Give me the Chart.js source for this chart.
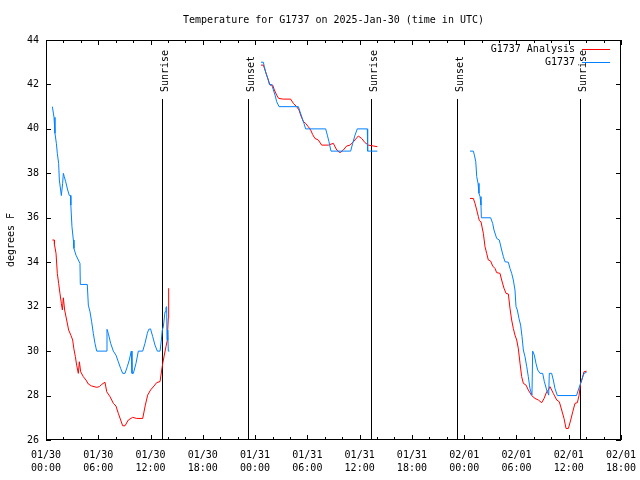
<!DOCTYPE html>
<html>
<head>
<meta charset="utf-8">
<script src="https://cdn.jsdelivr.net/npm/chart.js@4.4.1/dist/chart.umd.min.js"></script>
<style>
  body { margin: 0; background: #fff; }
</style>
</head>
<body>
<canvas id="tempChart" width="640" height="480"></canvas>
<script>
// hours since 01/30 00:00 UTC; null temp breaks the line
const analysisHours = [
  0.73, 0.96, 0.97, 1.15, 1.3, 1.45, 1.6, 1.76, 1.88, 1.99, 2.14, 2.37, 2.6, 2.87, 3.06, 3.2, 3.37, 3.52, 3.71, 3.83, 3.98,
  4.28, 4.59, 4.86, 5.24, 5.82, 6.12, 6.39, 6.77, 6.97, 7.35, 7.73, 8.03, 8.3, 8.57, 8.8, 9.07, 9.45, 9.95, 10.4, 11.1,
  11.4, 11.67, 12.0, 12.4, 12.7, 13.09, 13.28, 13.4, 13.58, 13.77, 13.93, 13.97, 14.04, 14.08,
  19,
  24.68, 24.95, 25.14, 25.33, 25.52, 25.71, 26.02, 26.21, 26.48, 26.71, 27.24, 28.08, 28.39, 28.77, 29.04, 29.27, 29.54,
  29.8, 30.1, 30.38, 30.6, 30.87, 31.26, 31.64, 32.4, 32.98, 33.37, 33.75, 34.13, 34.51, 34.9, 35.28, 35.85, 36.23,
  36.62, 37.0, 37.57, 38.03,
  43,
  48.67, 49.05, 49.24, 49.44, 49.63, 49.74, 49.93, 50.12, 50.2, 50.39, 50.58, 50.77, 51.04, 51.27, 51.54, 51.73, 52.11,
  52.3, 52.57, 52.8, 53.07, 53.26, 53.45, 53.64, 53.83, 54.03, 54.22, 54.41, 54.6, 54.79, 55.1, 55.36, 55.75, 56.13,
  56.51, 56.9, 57.17, 57.47, 57.66, 57.85, 58.04, 58.23, 58.62, 58.92, 59.19, 59.46, 59.69, 59.96, 60.23, 60.46, 60.72,
  60.99, 61.18, 61.37, 61.56, 61.75, 62.05
];
const analysisTemps = [
  35.0, 35.0, 34.8, 34.4, 33.5, 33.05, 32.6, 32.15, 31.85, 32.4, 31.85, 31.4, 30.95, 30.7, 30.5, 30.1, 29.75, 29.37, 29.0, 29.52, 29.07,
  28.85, 28.7, 28.52, 28.43, 28.37, 28.4, 28.5, 28.6, 28.17, 27.95, 27.65, 27.53, 27.2, 26.9, 26.64, 26.64, 26.9, 27.02, 26.97, 26.97,
  27.57, 28.02, 28.25, 28.43, 28.58, 28.63, 29.15, 29.45, 29.82, 30.2, 30.5, 30.95, 31.48, 32.83,
  null,
  42.87, 42.87, 42.65, 42.42, 42.2, 41.97, 41.97, 41.75, 41.52, 41.37, 41.34, 41.34, 41.15, 41.0, 40.85, 40.58, 40.33,
  40.25, 40.1, 39.95, 39.75, 39.57, 39.5, 39.27, 39.27, 39.35, 39.05, 38.93, 39.05, 39.23, 39.27, 39.42, 39.68, 39.57,
  39.38, 39.27, 39.23, 39.2,
  null,
  36.87, 36.87, 36.65, 36.35, 36.05, 35.87, 35.82, 35.45, 35.3, 34.7, 34.4, 34.1, 34.05, 33.83, 33.72, 33.53, 33.5,
  33.2, 32.83, 32.6, 32.57, 31.92, 31.4, 31.02, 30.72, 30.5, 30.1, 29.45, 28.85, 28.55, 28.47, 28.25, 28.0, 27.87,
  27.8, 27.68, 27.87, 28.17, 28.25, 28.4, 28.25, 28.1, 27.8, 27.72, 27.35, 26.97, 26.52, 26.52, 26.9, 27.27, 27.65,
  27.68, 28.0, 28.55, 28.77, 29.07, 29.1
];

const obsHours = [
  0.73, 0.92, 1.03, 1.19, 1.3, 1.45, 1.53, 1.68, 1.76, 1.8, 1.91, 1.99, 2.1, 2.26, 2.49, 2.68, 2.83, 2.85, 2.98, 3.14,
  3.21, 3.44, 3.71, 3.9, 3.94, 4.74, 4.86, 5.05, 5.24, 5.43, 5.62, 5.82, 6.89, 7.0, 7.15, 7.42, 7.73, 8.03, 8.3, 8.57,
  8.8, 9.07, 9.33, 9.56, 9.79, 9.87, 10.03, 10.33, 10.6, 11.1, 11.36, 11.63, 11.79, 12.0, 12.25, 12.51, 12.78, 13.09,
  13.24, 13.35, 13.47, 13.66, 13.77, 13.85, 13.89, 13.97, 14.04, 14.16,
  19,
  24.68, 24.95, 25.06, 25.25, 25.45, 25.64, 25.9, 26.1, 26.29, 26.48, 26.75, 28.97, 29.16, 29.42, 29.61, 29.8, 32.1,
  32.29, 32.48, 32.71, 34.97, 35.2, 35.47, 35.73, 36.88, 36.92, 38.03,
  43,
  48.67, 49.05, 49.17, 49.33, 49.44, 49.59, 49.7, 49.82, 49.93, 49.97, 51.04, 51.27, 51.42, 51.73, 52.03, 52.3, 52.5,
  52.69, 53.07, 53.26, 53.45, 53.64, 53.83, 53.95, 54.1, 54.29, 54.48, 54.64, 54.79, 54.98, 55.18, 55.36, 55.55, 55.78,
  55.86, 56.05, 56.24, 56.44, 56.7, 57.01, 57.2, 57.47, 57.7, 57.77, 58.04, 58.23, 58.42, 58.69, 60.9, 61.1, 61.29,
  61.48, 61.67, 61.78, 62.05
];
const obsTemps = [
  41.0, 40.52, 39.8, 39.35, 38.9, 38.45, 37.7, 37.25, 37.0, 37.0, 37.55, 38.0, 37.85, 37.62, 37.25, 37.0, 37.0, 36.57, 35.6, 35.0,
  34.62, 34.32, 34.1, 33.95, 33.0, 33.0, 32.07, 31.77, 31.32, 30.8, 30.35, 30.0, 30.0, 30.98, 30.8, 30.35, 30.0, 29.82, 29.52, 29.22,
  29.0, 29.0, 29.3, 29.6, 30.0, 29.0, 29.0, 29.45, 30.0, 30.0, 30.35, 30.8, 30.98, 31.0, 30.65, 30.27, 30.0, 30.0,
  30.5, 30.95, 31.1, 31.77, 31.97, 32.0, 30.5, 30.95, 30.0, 30.0,
  null,
  43.0, 43.0, 42.8, 42.5, 42.28, 42.0, 42.0, 41.75, 41.52, 41.22, 41.0, 41.0, 40.77, 40.47, 40.25, 40.0, 40.0,
  39.72, 39.42, 39.0, 39.0, 39.35, 39.72, 40.0, 40.0, 39.0, 39.0,
  null,
  39.0, 39.0, 38.82, 38.52, 37.85, 37.55, 37.1, 36.95, 36.57, 36.0, 36.0, 35.75, 35.45, 35.07, 35.0, 34.55, 34.25,
  34.02, 34.0, 33.72, 33.5, 33.2, 32.75, 32.0, 31.85, 31.47, 31.17, 30.65, 30.05, 29.75, 29.3, 28.85, 28.32, 28.02,
  30.0, 29.82, 29.45, 29.15, 29.0, 29.0, 28.63, 28.25, 28.02, 29.0, 29.0, 28.7, 28.32, 28.0, 28.0, 28.25, 28.47,
  28.7, 28.92, 29.0, 29.05
];

const sunHours = [13.35, 23.22, 37.34, 47.21, 61.33];
const sunLabels = ["Sunrise", "Sunset", "Sunrise", "Sunset", "Sunrise"];

const tickHours = [0, 6, 12, 18, 24, 30, 36, 42, 48, 54, 60, 66];
const tickDates = ["01/30", "01/30", "01/30", "01/30", "01/31", "01/31", "01/31", "01/31", "02/01", "02/01", "02/01", "02/01"];
const tickTimes = ["00:00", "06:00", "12:00", "18:00", "00:00", "06:00", "12:00", "18:00", "00:00", "06:00", "12:00", "18:00"];
const yTicks = [26, 28, 30, 32, 34, 36, 38, 40, 42, 44];

const FONT = "'DejaVu Sans Mono', 'Liberation Mono', monospace";

function toPoints(hours, temps) {
    return hours.map((h, i) => ({ x: h, y: temps[i] }));
}

const gnuplotLook = {
    id: "gnuplotLook",
    beforeDatasetsDraw(chart) {
        const ctx = chart.ctx;
        const xs = chart.scales.x;
        const area = chart.chartArea;
        ctx.save();
        ctx.strokeStyle = "#000";
        ctx.lineWidth = 1;
        ctx.fillStyle = "#000";
        ctx.font = "10px " + FONT;
        sunHours.forEach((h, i) => {
            const px = Math.round(xs.getPixelForValue(h)) + 0.5;
            ctx.beginPath();
            ctx.moveTo(px, 99);
            ctx.lineTo(px, area.bottom);
            ctx.stroke();
            ctx.save();
            ctx.translate(px + 5, 92);
            ctx.rotate(-Math.PI / 2);
            ctx.textAlign = "left";
            ctx.textBaseline = "alphabetic";
            ctx.fillText(sunLabels[i], 0, 0);
            ctx.restore();
        });
        ctx.restore();
    },
    afterDraw(chart) {
        const ctx = chart.ctx;
        const xs = chart.scales.x;
        const ys = chart.scales.y;
        const a = chart.chartArea;
        ctx.save();
        ctx.strokeStyle = "#000";
        ctx.lineWidth = 1;
        ctx.strokeRect(Math.round(a.left) + 0.5, Math.round(a.top) + 0.5,
            Math.round(a.right - a.left) - 1, Math.round(a.bottom - a.top) - 1);

        ctx.beginPath();
        for (let h = 0; h <= 66; h += 2) {
            const px = Math.round(xs.getPixelForValue(h)) + 0.5;
            const len = h % 6 === 0 ? 5 : 3;
            ctx.moveTo(px, a.bottom);
            ctx.lineTo(px, a.bottom - len);
            ctx.moveTo(px, a.top);
            ctx.lineTo(px, a.top + len);
        }
        yTicks.forEach(v => {
            const py = Math.round(ys.getPixelForValue(v)) + 0.5;
            ctx.moveTo(a.left, py);
            ctx.lineTo(a.left + 5, py);
            ctx.moveTo(a.right, py);
            ctx.lineTo(a.right - 5, py);
        });
        ctx.stroke();

        ctx.fillStyle = "#000";
        ctx.font = "10px " + FONT;
        ctx.textAlign = "center";
        ctx.textBaseline = "middle";
        ctx.fillText("Temperature for G1737 on 2025-Jan-30 (time in UTC)", (a.left + a.right) / 2, 20);

        ctx.save();
        ctx.translate(11, (a.top + a.bottom) / 2);
        ctx.rotate(-Math.PI / 2);
        ctx.fillText("degrees F", 0, 0);
        ctx.restore();

        // legend, top right inside the plot
        ctx.textAlign = "right";
        chart.data.datasets.forEach((ds, i) => {
            const y = 49 + i * 13;
            ctx.fillStyle = "#000";
            ctx.fillText(ds.label, 575, y);
            ctx.strokeStyle = ds.borderColor;
            ctx.beginPath();
            ctx.moveTo(582, y + 0.5);
            ctx.lineTo(610, y + 0.5);
            ctx.stroke();
        });
        ctx.restore();
    }
};

Chart.defaults.font.family = FONT;
Chart.defaults.font.size = 10;
Chart.defaults.color = "#000";

new Chart(document.getElementById("tempChart"), {
    type: "line",
    data: {
        datasets: [{
            label: "G1737 Analysis",
            data: toPoints(analysisHours, analysisTemps),
            borderColor: "#ff0000",
            borderWidth: 1,
            pointRadius: 0,
            tension: 0,
            spanGaps: false,
            order: 1
        }, {
            label: "G1737",
            data: toPoints(obsHours, obsTemps),
            borderColor: "#0080ff",
            borderWidth: 1,
            pointRadius: 0,
            tension: 0,
            spanGaps: false,
            order: 0
        }]
    },
    options: {
        responsive: false,
        animation: false,
        layout: { padding: { top: 40, right: 19, left: 0, bottom: 0 } },
        plugins: {
            legend: { display: false },
            tooltip: { enabled: false }
        },
        scales: {
            x: {
                type: "linear",
                min: 0,
                max: 66,
                afterBuildTicks: s => { s.ticks = tickHours.map(v => ({ value: v })); },
                afterFit: s => { s.height = 40; s.paddingLeft = 0; s.paddingRight = 0; },
                grid: { display: false, drawTicks: false },
                border: { display: false },
                ticks: {
                    autoSkip: false,
                    maxRotation: 0,
                    padding: 9,
                    font: { size: 10, lineHeight: 1.3 },
                    callback: v => {
                        const i = tickHours.indexOf(v);
                        return i < 0 ? "" : [tickDates[i], tickTimes[i]];
                    }
                }
            },
            y: {
                min: 26,
                max: 44,
                afterBuildTicks: s => { s.ticks = yTicks.map(v => ({ value: v })); },
                afterFit: s => { s.width = 46; s.paddingTop = 0; s.paddingBottom = 0; },
                grid: { display: false, drawTicks: false },
                border: { display: false },
                ticks: { padding: 7, font: { size: 10 } }
            }
        }
    },
    plugins: [gnuplotLook]
});
</script>
</body>
</html>
